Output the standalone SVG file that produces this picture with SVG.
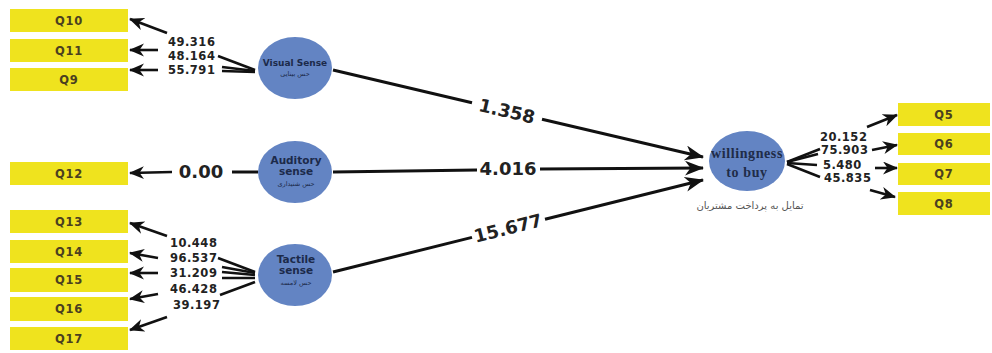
<svg xmlns="http://www.w3.org/2000/svg" width="992" height="353" viewBox="0 0 992 353">
<defs>
<marker id="ah" markerUnits="userSpaceOnUse" markerWidth="18" markerHeight="14" refX="14" refY="6.5" orient="auto" viewBox="0 0 18 14">
<path d="M0,0 L15,6.5 L0,13 L4.5,6.5 z" fill="#111"/>
</marker>
<marker id="ahb" markerUnits="userSpaceOnUse" markerWidth="22" markerHeight="16" refX="18" refY="7.5" orient="auto" viewBox="0 0 22 16">
<path d="M0,0 L19,7.5 L0,15 L5.5,7.5 z" fill="#111"/>
</marker>
<style>
.box{fill:#EFE31E}
.bt{font-family:"DejaVu Sans",sans-serif;font-weight:bold;font-size:11.5px;fill:#4a4020;text-anchor:middle;letter-spacing:0.8px}
.lv{fill:#6384C3}
.ct{font-family:"DejaVu Sans",sans-serif;font-weight:bold;fill:#1c2a4a;text-anchor:middle}
.fa{font-family:"DejaVu Sans",sans-serif;font-size:6.5px;fill:#1c2a4a;text-anchor:middle}
.num{font-family:"DejaVu Sans",sans-serif;font-weight:bold;font-size:11.5px;letter-spacing:0.5px;fill:#222}
.big{font-family:"DejaVu Sans",sans-serif;font-weight:bold;font-size:18px;fill:#222;text-anchor:middle}
.ln{stroke:#111;stroke-width:2.6;fill:none}
.lb{stroke:#111;stroke-width:3;fill:none}
</style>
</defs>
<rect width="992" height="353" fill="#fff"/>

<g id="connectors">
<!-- Visual sense indicators -->
<line class="ln" x1="255" y1="70" x2="218" y2="56"/>
<line class="ln" x1="255" y1="71" x2="222" y2="67"/>
<line class="ln" x1="255" y1="72" x2="222" y2="71"/>
<line class="ln" x1="167" y1="33" x2="130" y2="19" marker-end="url(#ah)"/>
<line class="ln" x1="158" y1="50" x2="130" y2="50" marker-end="url(#ah)"/>
<line class="ln" x1="158" y1="70" x2="130" y2="70" marker-end="url(#ah)"/>
<!-- Auditory -->
<line class="lb" x1="258" y1="172" x2="232" y2="172"/>
<line class="ln" x1="172" y1="172" x2="130" y2="173" marker-end="url(#ah)"/>
<!-- Tactile indicators -->
<line class="ln" x1="255" y1="272" x2="218" y2="258"/>
<line class="ln" x1="255" y1="273" x2="222" y2="267"/>
<line class="ln" x1="255" y1="275" x2="222" y2="272"/>
<line class="ln" x1="255" y1="278" x2="222" y2="278"/>
<line class="ln" x1="255" y1="282" x2="220" y2="295"/>
<line class="ln" x1="167" y1="236" x2="130" y2="223" marker-end="url(#ah)"/>
<line class="ln" x1="158" y1="258" x2="130" y2="253" marker-end="url(#ah)"/>
<line class="ln" x1="158" y1="273" x2="130" y2="273" marker-end="url(#ah)"/>
<line class="ln" x1="158" y1="294" x2="130" y2="299" marker-end="url(#ah)"/>
<line class="ln" x1="167" y1="317" x2="130" y2="330" marker-end="url(#ah)"/>
<!-- Structural paths -->
<line class="lb" x1="333" y1="70" x2="472" y2="102.8"/>
<line class="lb" x1="542" y1="119.3" x2="703" y2="157" marker-end="url(#ahb)"/>
<line class="lb" x1="333" y1="172" x2="477" y2="170"/>
<line class="lb" x1="540" y1="169" x2="703" y2="168" marker-end="url(#ahb)"/>
<line class="lb" x1="333" y1="272" x2="472" y2="237.4"/>
<line class="lb" x1="545" y1="219.3" x2="703" y2="180" marker-end="url(#ahb)"/>
<!-- Willingness indicators -->
<line class="ln" x1="787" y1="162" x2="820" y2="149"/>
<line class="ln" x1="787" y1="162" x2="818" y2="154"/>
<line class="ln" x1="787" y1="163" x2="817" y2="165"/>
<line class="ln" x1="787" y1="164" x2="820" y2="177"/>
<line class="ln" x1="867" y1="127" x2="897" y2="115" marker-end="url(#ah)"/>
<line class="ln" x1="872" y1="150" x2="897" y2="145" marker-end="url(#ah)"/>
<line class="ln" x1="875" y1="168" x2="897" y2="168" marker-end="url(#ah)"/>
<line class="ln" x1="870" y1="190" x2="895" y2="197" marker-end="url(#ah)"/>
<!-- labels -->
<text class="num" x="168" y="46">49.316</text>
<text class="num" x="168" y="59.5">48.164</text>
<text class="num" x="168" y="74">55.791</text>
<text class="big" x="201" y="178">0.00</text>
<text class="num" x="170" y="247">10.448</text>
<text class="num" x="170" y="261.5">96.537</text>
<text class="num" x="170" y="277">31.209</text>
<text class="num" x="170" y="293">46.428</text>
<text class="num" x="173" y="309">39.197</text>
<text class="big" transform="rotate(13.3 507 111)" x="507" y="117.5">1.358</text>
<text class="big" x="508" y="175">4.016</text>
<text class="big" transform="rotate(-14 508 228)" x="508" y="234.5">15.677</text>
<text class="num" x="820" y="141">20.152</text>
<text class="num" x="821" y="154">75.903</text>
<text class="num" x="823" y="169">5.480</text>
<text class="num" x="824" y="182">45.835</text>
</g>

<g id="Q10"><rect class="box" x="10" y="9" width="118" height="23"/><text class="bt" x="69" y="25">Q10</text></g>
<g id="Q11"><rect class="box" x="10" y="39" width="118" height="23"/><text class="bt" x="69" y="55">Q11</text></g>
<g id="Q9"><rect class="box" x="10" y="68" width="118" height="23"/><text class="bt" x="69" y="84">Q9</text></g>
<g id="Q12"><rect class="box" x="10" y="162" width="118" height="23"/><text class="bt" x="69" y="178">Q12</text></g>
<g id="Q13"><rect class="box" x="10" y="210" width="118" height="23"/><text class="bt" x="69" y="226">Q13</text></g>
<g id="Q14"><rect class="box" x="10" y="240" width="118" height="23"/><text class="bt" x="69" y="256">Q14</text></g>
<g id="Q15"><rect class="box" x="10" y="268" width="118" height="24"/><text class="bt" x="69" y="284">Q15</text></g>
<g id="Q16"><rect class="box" x="10" y="297" width="118" height="24"/><text class="bt" x="69" y="313">Q16</text></g>
<g id="Q17"><rect class="box" x="10" y="327" width="118" height="23"/><text class="bt" x="69" y="343">Q17</text></g>

<g id="Q5"><rect class="box" x="898" y="103" width="92" height="23"/><text class="bt" x="944" y="119">Q5</text></g>
<g id="Q6"><rect class="box" x="898" y="133" width="92" height="22"/><text class="bt" x="944" y="148">Q6</text></g>
<g id="Q7"><rect class="box" x="898" y="163" width="92" height="22"/><text class="bt" x="944" y="178">Q7</text></g>
<g id="Q8"><rect class="box" x="898" y="192" width="92" height="23"/><text class="bt" x="944" y="208">Q8</text></g>

<g id="visual">
<ellipse class="lv" cx="295" cy="68" rx="37" ry="31"/>
<text class="ct" x="295" y="66" font-size="9px">Visual Sense</text>
<text class="fa" x="295" y="76">حس بینایی</text>
</g>
<g id="auditory">
<ellipse class="lv" cx="295" cy="172" rx="37" ry="31"/>
<text class="ct" x="296" y="164" font-size="10.5px">Auditory</text>
<text class="ct" x="296" y="175" font-size="10.5px">sense</text>
<text class="fa" x="296" y="186">حس شنیداری</text>
</g>
<g id="tactile">
<ellipse class="lv" cx="295" cy="275" rx="37" ry="31"/>
<text class="ct" x="296" y="263" font-size="10.5px">Tactile</text>
<text class="ct" x="296" y="274" font-size="10.5px">sense</text>
<text class="fa" x="296" y="285">حس لامسه</text>
</g>
<g id="willingness">
<ellipse class="lv" cx="747" cy="161" rx="38" ry="30"/>
<text x="747" y="158" font-family="Liberation Serif, serif" font-weight="bold" font-size="14px" letter-spacing="0.6" fill="#1f2c48" text-anchor="middle">willingness</text>
<text x="747" y="177" font-family="Liberation Serif, serif" font-weight="bold" font-size="14px" letter-spacing="0.6" fill="#1f2c48" text-anchor="middle">to buy</text>
<text x="750" y="209" font-family="DejaVu Sans, sans-serif" font-size="10px" fill="#555" text-anchor="middle">تمایل به پرداخت مشتریان</text>
</g>
</svg>
